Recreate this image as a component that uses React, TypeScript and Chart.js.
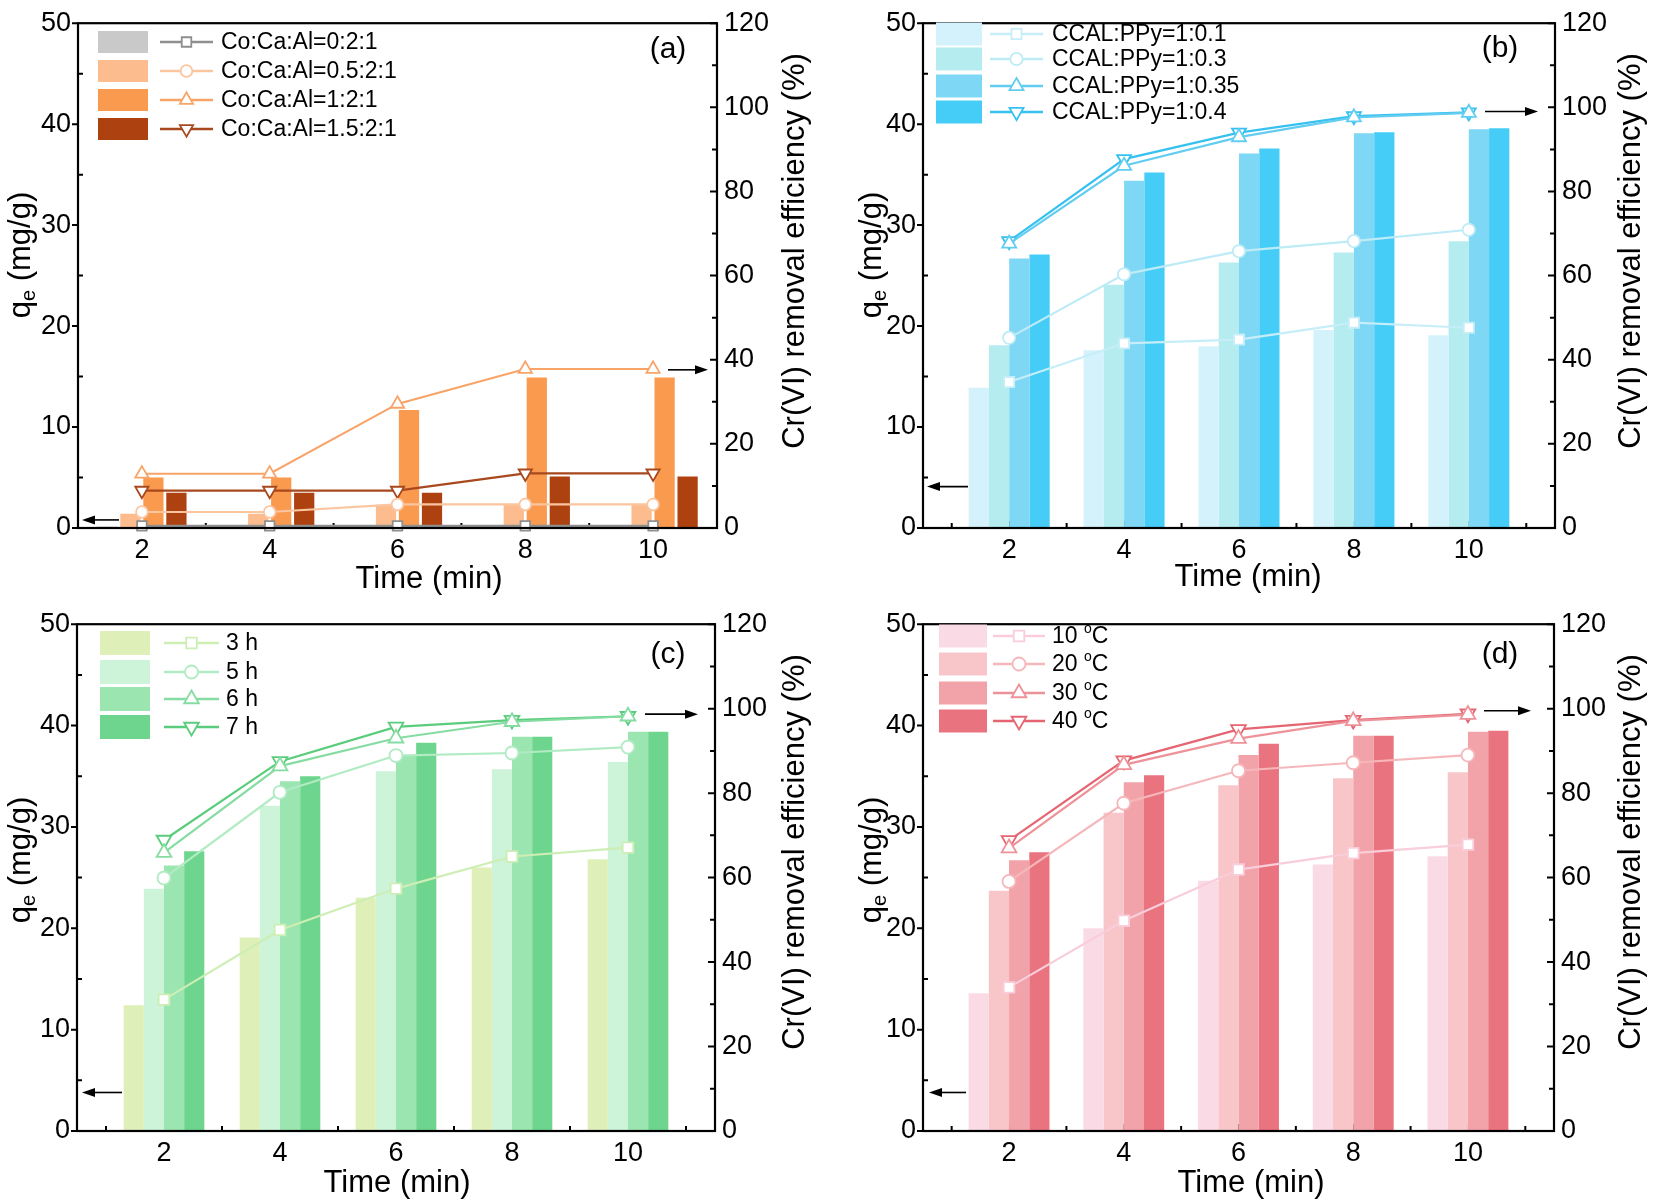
import React, { useEffect, useRef } from 'react';
import { Chart, registerables } from 'chart.js';

Chart.register(...registerables);

const FONT = '"Liberation Sans", Arial, Helvetica, sans-serif';
const W = 827;
const H = 601;

// shared axes
const time = [2, 4, 6, 8, 10];
const timeTicks = [2, 4, 6, 8, 10];
const qeTicks = [0, 10, 20, 30, 40, 50];
const removalTicks = [0, 20, 40, 60, 80, 100, 120];

// (a) Co:Ca:Al ratio
const labelsA = ['Co:Ca:Al=0:2:1', 'Co:Ca:Al=0.5:2:1', 'Co:Ca:Al=1:2:1', 'Co:Ca:Al=1.5:2:1'];
const qeA = [
  [0.15, 0.15, 0.2, 0.2, 0.2],
  [1.4, 1.4, 2.3, 2.3, 2.3],
  [5.0, 5.0, 11.7, 14.9, 14.9],
  [3.5, 3.5, 3.5, 5.1, 5.1],
];
const removalA = [
  [0.5, 0.5, 0.5, 0.5, 0.5],
  [3.8, 3.8, 5.6, 5.6, 5.6],
  [12.9, 12.9, 29.5, 37.8, 37.8],
  [8.9, 8.9, 8.9, 13.0, 13.0],
];

// (b) CCAL:PPy ratio
const labelsB = ['CCAL:PPy=1:0.1', 'CCAL:PPy=1:0.3', 'CCAL:PPy=1:0.35', 'CCAL:PPy=1:0.4'];
const qeB = [
  [13.9, 17.6, 18.0, 19.6, 19.1],
  [18.1, 24.1, 26.3, 27.3, 28.4],
  [26.7, 34.4, 37.1, 39.1, 39.5],
  [27.1, 35.2, 37.6, 39.2, 39.6],
];
const removalB = [
  [34.7, 43.9, 44.8, 48.8, 47.6],
  [45.2, 60.3, 65.8, 68.2, 70.9],
  [67.6, 86.1, 92.9, 97.6, 98.7],
  [68.2, 87.7, 94.0, 97.9, 98.8],
];

// (c) polymerization time
const labelsC = ['3 h', '5 h', '6 h', '7 h'];
const qeC = [
  [12.4, 19.1, 23.0, 26.0, 26.8],
  [23.9, 32.1, 35.5, 35.7, 36.4],
  [26.2, 34.5, 37.1, 38.9, 39.4],
  [27.6, 35.0, 38.3, 38.9, 39.4],
];
const removalC = [
  [31.1, 47.6, 57.4, 65.0, 67.1],
  [59.9, 80.2, 88.9, 89.5, 90.9],
  [65.9, 86.4, 93.0, 96.9, 98.2],
  [68.9, 87.5, 95.7, 97.3, 98.2],
];

// (d) temperature
const labelsD = ['10 °C', '20 °C', '30 °C', '40 °C'];
const qeD = [
  [13.6, 20.0, 24.7, 26.3, 27.1],
  [23.7, 31.4, 34.1, 34.8, 35.4],
  [26.7, 34.4, 37.1, 39.0, 39.4],
  [27.5, 35.1, 38.2, 39.0, 39.5],
];
const removalD = [
  [34.0, 49.8, 61.9, 65.8, 67.8],
  [59.1, 77.6, 85.3, 87.2, 89.0],
  [67.0, 86.7, 92.9, 97.1, 98.6],
  [68.8, 87.7, 95.1, 97.3, 98.8],
];

const markerStyles = ['rect', 'circle', 'triangle', 'triangle'];
const markerRot = [0, 0, 0, 180];
const markerRadius = [7.5, 6.5, 8.5, 8.5];

const panels: any[] = [
  {
    pos: [0, 0], area: { l: 78, t: 17, r: 717, b: 528 }, xMin: 1, xMax: 11, catPct: 0.72, barPct: 0.88,
    labels: labelsA, qe: qeA, removal: removalA,
    bars: ['#c9c9c9', '#fcbc8e', '#fa9a4f', '#ad4210'],
    lines: ['#8f8f8f', '#fbc5a0', '#f8a468', '#a8481f'],
    tag: '(a)', tagAt: [668, 50], mk: 0.9,
    legend: { sx: 98, sw: 50, sh: 22, lx0: 160, lx1: 213, tx: 221, rows: [42, 71, 100, 129] },
    arrowL: { v: 0.8, x0: 119, x1: 82 }, arrowR: { v: 37.6, x0: 668, x1: 708 },
    yTitleAt: [21, 255], y1TitleAt: [795, 251], xTitleAt: [429, 579],
  },
  {
    pos: [827, 0], area: { l: 96, t: 15, r: 728, b: 528 }, xMin: 0.5, xMax: 11.5, catPct: 0.705, barPct: 1,
    labels: labelsB, qe: qeB, removal: removalB,
    bars: ['#d3f2fb', '#b4ecef', '#7ed7f4', '#45cdf8'],
    lines: ['#c6eef9', '#bdebf6', '#62cdf0', '#36c1f0'],
    tag: '(b)', tagAt: [673, 49], mk: 0.95,
    legend: { sx: 109, sw: 46, sh: 23, lx0: 163, lx1: 216, tx: 225, rows: [34, 59, 86, 112] },
    arrowL: { v: 4.1, x0: 141, x1: 100 }, arrowR: { v: 99, x0: 658, x1: 711 },
    yTitleAt: [45, 255], y1TitleAt: [804, 251], xTitleAt: [421, 577],
  },
  {
    pos: [0, 601], area: { l: 77, t: 16, r: 715, b: 530 }, xMin: 0.5, xMax: 11.5, catPct: 0.695, barPct: 1,
    labels: labelsC, qe: qeC, removal: removalC,
    bars: ['#def0b8', '#cdf3d8', '#9be5b0', '#6dd58d'],
    lines: ['#cdeeb4', '#b0ebc3', '#86dca2', '#5acc7c'],
    tag: '(c)', tagAt: [668, 54], mk: 1,
    legend: { sx: 100, sw: 50, sh: 24, lx0: 164, lx1: 219, tx: 226, rows: [42, 71, 98, 126] },
    arrowL: { v: 3.8, x0: 122, x1: 82 }, arrowR: { v: 98.7, x0: 645, x1: 698 },
    yTitleAt: [21, 259], y1TitleAt: [795, 251], xTitleAt: [397, 582],
  },
  {
    pos: [827, 601], area: { l: 96, t: 16, r: 727, b: 530 }, xMin: 0.5, xMax: 11.5, catPct: 0.705, barPct: 1,
    labels: labelsD, qe: qeD, removal: removalD,
    bars: ['#fadbe5', '#f8c6c9', '#f2a3a9', '#e9737f'],
    lines: ['#f9cdd9', '#f6b7bb', '#ee929a', '#e56672'],
    tag: '(d)', tagAt: [673, 54], mk: 1,
    legend: { sx: 112, sw: 48, sh: 23, lx0: 166, lx1: 218, tx: 225, rows: [35, 63, 92, 120] },
    arrowL: { v: 3.8, x0: 139, x1: 102 }, arrowR: { v: 99.5, x0: 657, x1: 704 },
    yTitleAt: [45, 259], y1TitleAt: [804, 251], xTitleAt: [424, 582],
  },
];

function drawMarker(ctx: CanvasRenderingContext2D, style: string, x: number, y: number, r: number, rot: number) {
  ctx.beginPath();
  if (style === 'rect') {
    const s = r * Math.SQRT1_2;
    ctx.rect(x - s, y - s, 2 * s, 2 * s);
  } else if (style === 'circle') {
    ctx.arc(x, y, r, 0, Math.PI * 2);
  } else {
    let a = (rot * Math.PI) / 180;
    for (let k = 0; k < 3; k++) {
      const px = x + Math.sin(a) * r;
      const py = y - Math.cos(a) * r;
      if (k === 0) ctx.moveTo(px, py);
      else ctx.lineTo(px, py);
      a += (Math.PI * 2) / 3;
    }
    ctx.closePath();
  }
  ctx.fill();
  ctx.stroke();
}

// "°" is shown Origin-style as a small raised "o"
function drawLabel(ctx: CanvasRenderingContext2D, text: string, x: number, y: number, size: number) {
  ctx.textAlign = 'left';
  ctx.textBaseline = 'middle';
  let cx = x;
  text.split('°').forEach((part, i) => {
    if (i > 0) {
      ctx.font = `${Math.round(size * 0.62)}px ${FONT}`;
      ctx.fillText('o', cx, y - size * 0.33);
      cx += ctx.measureText('o').width;
    }
    ctx.font = `${size}px ${FONT}`;
    ctx.fillText(part, cx, y);
    cx += ctx.measureText(part).width;
  });
}

function drawArrow(ctx: CanvasRenderingContext2D, x0: number, x1: number, y: number) {
  const dir = Math.sign(x1 - x0);
  ctx.beginPath();
  ctx.moveTo(x0, y);
  ctx.lineTo(x1 - dir * 8, y);
  ctx.stroke();
  ctx.beginPath();
  ctx.moveTo(x1, y);
  ctx.lineTo(x1 - dir * 13, y - 4.5);
  ctx.lineTo(x1 - dir * 13, y + 4.5);
  ctx.closePath();
  ctx.fill();
}

function PanelChart({ p }: { p: any }) {
  const ref = useRef<HTMLCanvasElement>(null);

  useEffect(() => {
    if (!ref.current) return;

    const decor = {
      id: 'decor',
      beforeDatasetsDraw(chart: any) {
        const { ctx, chartArea: a, scales } = chart;
        ctx.save();
        ctx.strokeStyle = '#000';
        ctx.lineWidth = 2;
        ctx.beginPath();
        for (let v = 0; v <= 50; v += 5) {
          const py = scales.y.getPixelForValue(v);
          if (v % 10 === 0) { ctx.moveTo(a.left - 6, py); ctx.lineTo(a.left, py); }
          else { ctx.moveTo(a.left, py); ctx.lineTo(a.left + 5, py); }
        }
        for (let v = 0; v <= 120; v += 10) {
          const py = scales.y1.getPixelForValue(v);
          ctx.moveTo(a.right, py);
          ctx.lineTo(a.right - (v % 20 === 0 ? 7 : 5), py);
        }
        for (let v = 1; v <= 11; v++) {
          if (v <= p.xMin || v >= p.xMax) continue;
          const px = scales.x.getPixelForValue(v);
          ctx.moveTo(px, a.bottom);
          ctx.lineTo(px, a.bottom - (v % 2 === 0 ? 7 : 5));
        }
        ctx.stroke();
        ctx.restore();
      },
      afterDatasetsDraw(chart: any) {
        const { ctx, chartArea: a } = chart;
        ctx.save();
        ctx.strokeStyle = '#000';
        ctx.lineWidth = 2.2;
        ctx.strokeRect(a.left, a.top, a.right - a.left, a.bottom - a.top);
        ctx.restore();
      },
      afterDraw(chart: any) {
        const { ctx, scales } = chart;
        ctx.save();
        ctx.fillStyle = '#000';

        // legend: bar swatch + line with marker
        const lg = p.legend;
        p.labels.forEach((lab: string, i: number) => {
          const ry = lg.rows[i];
          ctx.fillStyle = p.bars[i];
          ctx.fillRect(lg.sx, ry - lg.sh / 2, lg.sw, lg.sh);
          ctx.strokeStyle = p.lines[i];
          ctx.lineWidth = 2.5;
          ctx.beginPath();
          ctx.moveTo(lg.lx0, ry);
          ctx.lineTo(lg.lx1, ry);
          ctx.stroke();
          ctx.fillStyle = '#fff';
          ctx.lineWidth = 1.8;
          drawMarker(ctx, markerStyles[i], (lg.lx0 + lg.lx1) / 2, ry, markerRadius[i] * p.mk, markerRot[i]);
          ctx.fillStyle = '#000';
          drawLabel(ctx, lab, lg.tx, ry + 1, 23);
        });

        // panel tag
        ctx.font = `30px ${FONT}`;
        ctx.textAlign = 'center';
        ctx.textBaseline = 'middle';
        ctx.fillText(p.tag, p.tagAt[0], p.tagAt[1]);

        // arrows pointing to the axes
        ctx.strokeStyle = '#000';
        ctx.fillStyle = '#000';
        ctx.lineWidth = 1.6;
        drawArrow(ctx, p.arrowL.x0, p.arrowL.x1, scales.y.getPixelForValue(p.arrowL.v));
        drawArrow(ctx, p.arrowR.x0, p.arrowR.x1, scales.y1.getPixelForValue(p.arrowR.v));

        // x title
        ctx.font = `31px ${FONT}`;
        ctx.textAlign = 'center';
        ctx.fillText('Time (min)', p.xTitleAt[0], p.xTitleAt[1]);

        // left title q_e (mg/g)
        ctx.save();
        ctx.translate(p.yTitleAt[0], p.yTitleAt[1]);
        ctx.rotate(-Math.PI / 2);
        ctx.textAlign = 'left';
        ctx.font = `31px ${FONT}`;
        const wq = ctx.measureText('q').width;
        const wr = ctx.measureText(' (mg/g)').width;
        ctx.font = `20px ${FONT}`;
        const we = ctx.measureText('e').width;
        const x0 = -(wq + we + wr) / 2;
        ctx.font = `31px ${FONT}`;
        ctx.fillText('q', x0, 0);
        ctx.font = `20px ${FONT}`;
        ctx.fillText('e', x0 + wq, 8);
        ctx.font = `31px ${FONT}`;
        ctx.fillText(' (mg/g)', x0 + wq + we, 0);
        ctx.restore();

        // right title
        ctx.save();
        ctx.translate(p.y1TitleAt[0], p.y1TitleAt[1]);
        ctx.rotate(-Math.PI / 2);
        ctx.textAlign = 'center';
        ctx.font = `31px ${FONT}`;
        ctx.fillText('Cr(VI) removal efficiency (%)', 0, 0);
        ctx.restore();

        ctx.restore();
      },
    };

    const tickFont = { family: FONT, size: 27 };
    const datasets: any[] = [
      ...p.qe.map((vals: number[], i: number) => ({
        type: 'bar',
        label: p.labels[i],
        data: time.map((t, k) => ({ x: t, y: vals[k] })),
        backgroundColor: p.bars[i],
        borderWidth: 0,
        xAxisID: 'x',
        yAxisID: 'y',
        categoryPercentage: p.catPct,
        barPercentage: p.barPct,
        order: 2,
      })),
      ...p.removal.map((vals: number[], i: number) => ({
        type: 'line',
        label: p.labels[i],
        data: time.map((t, k) => ({ x: t, y: vals[k] })),
        borderColor: p.lines[i],
        borderWidth: 2.2,
        pointStyle: markerStyles[i],
        rotation: markerRot[i],
        pointRotation: markerRot[i],
        pointRadius: markerRadius[i] * p.mk,
        pointBorderWidth: 1.8,
        pointBackgroundColor: '#fff',
        pointBorderColor: p.lines[i],
        tension: 0,
        fill: false,
        clip: false,
        xAxisID: 'x',
        yAxisID: 'y1',
        order: 1,
      })),
    ];

    const chart = new Chart(ref.current, {
      type: 'bar',
      data: { datasets },
      options: {
        responsive: false,
        maintainAspectRatio: false,
        animation: false,
        layout: { padding: { top: p.area.t, left: 0, right: 0, bottom: 0 } },
        plugins: { legend: { display: false }, tooltip: { enabled: false } },
        scales: {
          x: {
            type: 'linear',
            min: p.xMin,
            max: p.xMax,
            offset: false,
            grid: { display: false, drawTicks: false },
            border: { display: false },
            ticks: { font: tickFont, color: '#000', padding: 6, maxRotation: 0, autoSkip: false },
            afterBuildTicks: (s: any) => { s.ticks = timeTicks.map((v) => ({ value: v })); },
            afterFit: (s: any) => { s.height = H - p.area.b; },
          },
          y: {
            type: 'linear',
            position: 'left',
            min: 0,
            max: 50,
            grid: { display: false, drawTicks: false },
            border: { display: false },
            ticks: { font: tickFont, color: '#000', padding: 7 },
            afterBuildTicks: (s: any) => { s.ticks = qeTicks.map((v) => ({ value: v })); },
            afterFit: (s: any) => { s.width = p.area.l; },
          },
          y1: {
            type: 'linear',
            position: 'right',
            min: 0,
            max: 120,
            grid: { display: false, drawTicks: false },
            border: { display: false },
            ticks: { font: tickFont, color: '#000', padding: 7 },
            afterBuildTicks: (s: any) => { s.ticks = removalTicks.map((v) => ({ value: v })); },
            afterFit: (s: any) => { s.width = W - p.area.r; },
          },
        },
      } as any,
      plugins: [decor],
    });

    return () => { chart.destroy(); };
  }, [p]);

  return (
    <canvas
      ref={ref}
      width={W}
      height={H}
      style={{ position: 'absolute', left: p.pos[0], top: p.pos[1], width: W, height: H }}
    />
  );
}

export default function App() {
  return (
    <div style={{ position: 'absolute', left: 0, top: 0, width: 1654, height: 1202, background: '#fff' }}>
      {panels.map((p, i) => <PanelChart key={i} p={p} />)}
    </div>
  );
}
